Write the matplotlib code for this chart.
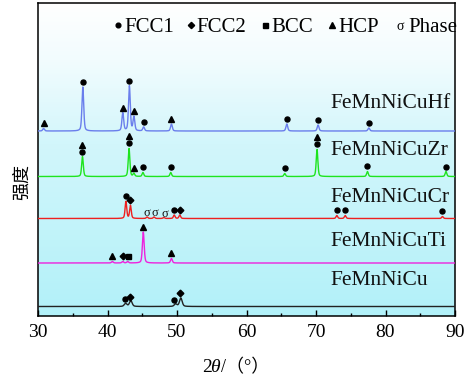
import numpy as np
import matplotlib
matplotlib.use("Agg")
import matplotlib.pyplot as plt
from matplotlib.colors import LinearSegmentedColormap

# ---------------- data ----------------
samples = ["FeMnNiCuHf", "FeMnNiCuZr", "FeMnNiCuCr", "FeMnNiCuTi", "FeMnNiCu"]

# peak positions (2theta) and relative intensities (arbitrary units)
hf_pos = [30.8, 36.45, 42.2, 43.15, 43.8, 45.2, 49.2, 65.8, 70.3, 77.6]
hf_int = [2.5, 44, 18, 45, 14, 4, 7, 7, 6, 3]
zr_pos = [36.4, 43.1, 43.8, 45.1, 49.1, 65.5, 70.15, 77.4, 88.7]
zr_int = [20, 28, 3, 4, 4, 3, 27, 5, 5]
cr_pos = [42.65, 43.3, 45.7, 46.7, 48.1, 49.6, 50.4, 73.0, 74.2, 88.2]
cr_int = [17, 13, 1.5, 1.5, 1.0, 3.5, 3.5, 3, 3, 2]
ti_pos = [40.7, 42.2, 42.9, 45.15, 49.2]
ti_int = [1.5, 1.5, 1.5, 31, 4.5]
cu_pos = [42.6, 43.35, 49.8, 50.55]
cu_int = [3, 6, 2.5, 8.5]

# phase markers per sample: (2theta, phase)
hf_marks = [(30.8, "HCP"), (36.45, "FCC1"), (42.2, "HCP"), (43.15, "FCC1"), (43.8, "HCP"),
            (45.2, "FCC1"), (49.2, "HCP"), (65.8, "FCC1"), (70.3, "FCC1"), (77.6, "FCC1")]
zr_marks = [(36.4, "FCC1"), (36.4, "HCP"), (43.1, "FCC1"), (43.1, "HCP"), (43.8, "HCP"),
            (45.1, "FCC1"), (49.1, "FCC1"), (65.5, "FCC1"), (70.15, "FCC1"), (70.15, "HCP"),
            (77.4, "FCC1"), (88.7, "FCC1")]
cr_marks = [(42.65, "FCC1"), (43.3, "FCC2"), (45.65, "σ"), (46.75, "σ"), (48.2, "σ"),
            (49.6, "FCC1"), (50.4, "FCC2"), (73.0, "FCC1"), (74.2, "FCC1"), (88.2, "FCC1")]
ti_marks = [(40.7, "HCP"), (42.2, "FCC2"), (42.9, "BCC"), (45.15, "HCP"), (49.2, "HCP")]
cu_marks = [(42.5, "FCC1"), (43.2, "FCC2"), (49.6, "FCC1"), (50.5, "FCC2")]

legend_items = ["FCC1", "FCC2", "BCC", "HCP", "Phase"]
x_ticks = [30, 40, 50, 60, 70, 80, 90]

# ---------------- layout / style ----------------
W, H = 477, 381
fig = plt.figure(figsize=(W / 100, H / 100), dpi=100)
L, R, T, B = 38, 455, 3, 316
ax = fig.add_axes([L / W, 1 - B / H, (R - L) / W, (B - T) / H])
ax.set_xlim(30, 90)
ax.set_ylim(0, B - T)

def py(pix):  # pixel row -> data y
    return B - pix

serif = "Liberation Serif"
cjk = ["Noto Sans CJK SC", "DejaVu Sans"]

# background gradient
cmap = LinearSegmentedColormap.from_list("bg", [(0.0, "#b2f1f9"), (0.55, "#d2f6fb"),
                                                 (0.82, "#f2fcfe"), (1.0, "#ffffff")])
grad = np.linspace(0, 1, 256).reshape(-1, 1)
ax.imshow(grad, aspect="auto", cmap=cmap, origin="lower",
          extent=[30, 90, 0, B - T], zorder=0)

x = np.linspace(30, 90, 4000)

def profile(pos, inten, w):
    y = np.zeros_like(x)
    for p, a in zip(pos, inten):
        lor = 1.0 / (1.0 + ((x - p) / (w / 2)) ** 2)
        gau = np.exp(-4 * np.log(2) * ((x - p) / w) ** 2)
        y += a * (0.4 * lor + 0.6 * gau)
    return y

series = [
    (hf_pos, hf_int, hf_marks, py(131), "#6a7eec", 0.30, 108),
    (zr_pos, zr_int, zr_marks, py(176.5), "#1ee41e", 0.28, 155),
    (cr_pos, cr_int, cr_marks, py(218.5), "#ee2020", 0.28, 201.5),
    (ti_pos, ti_int, ti_marks, py(263), "#ee22dd", 0.30, 246),
    (cu_pos, cu_int, cu_marks, py(306.5), "#222222", 0.45, 285),
]

mstyle = {"FCC1": ("o", 3.6), "FCC2": ("D", 3.4), "BCC": ("s", 3.6), "HCP": ("^", 4.6)}

for (pos, inten, marks, base, col, w, lab_base), name in zip(series, samples):
    prof = profile(pos, inten, w)
    ax.plot(x, base + prof, color=col, lw=1.0, zorder=3)
    stack = {}
    for xm, ph in marks:
        ytop = base + prof[np.argmin(np.abs(x - xm))]
        k = stack.get(xm, 0)
        stack[xm] = k + 1
        ym = ytop + 5 + 7 * k
        if ph == "σ":
            ax.text(xm, ym - 1, "σ", fontsize=9, family=serif, color="#111111",
                    ha="center", va="center", zorder=4)
        else:
            m, s = mstyle[ph]
            ax.plot([xm], [ym], marker=m, ms=s, color="black", mec="black",
                    ls="none", zorder=4)
    ax.text(72.05, py(lab_base), name, fontsize=15.5, family=serif,
            ha="left", va="baseline", color="#111111", zorder=5)

# axes styling
for sp in ax.spines.values():
    sp.set_linewidth(1.1)
ax.set_xticks(x_ticks)
ax.set_xticks(np.arange(35, 90, 10), minor=True)
ax.tick_params(axis="x", which="major", direction="in", length=4, width=1.0,
               labelsize=14, pad=6)
ax.tick_params(axis="x", which="minor", direction="in", length=2, width=1.0)
ax.set_yticks([])
for lab in ax.get_xticklabels():
    lab.set_family(serif)

# axis labels
fig.text(202 / W, 1 - 368 / H, "2", fontsize=14, family=serif, ha="left", va="center")
fig.text(210.5 / W, 1 - 368 / H, "θ", fontsize=14, family=serif, style="italic",
         ha="left", va="center")
fig.text(221 / W, 1 - 368 / H, "/（°）", fontsize=13, family=[serif] + cjk,
         ha="left", va="center")
fig.text(22 / W, 1 - 182 / H, "强度", fontsize=13, family=cjk, rotation=90,
         ha="center", va="center")

# legend line at top
leg_marks = [("o", 3.4, 118), ("D", 3.2, 191), ("s", 3.6, 265), ("^", 4.4, 332)]
leg_text_x = [124, 196, 271, 338, 408]
ly = 1 - 25 / H
for m, s, px in leg_marks:
    fig.lines.append(plt.Line2D([px / W], [ly], marker=m, ms=s, color="black",
                                ls="none", transform=fig.transFigure))
fig.text(400 / W, ly - 0.004, "σ", fontsize=10, family=serif, ha="center", va="center")
for t, px in zip(legend_items, leg_text_x):
    fig.text(px / W, ly, t, fontsize=15, family=serif, ha="left", va="center_baseline")

fig.savefig("out.png", dpi=100)
